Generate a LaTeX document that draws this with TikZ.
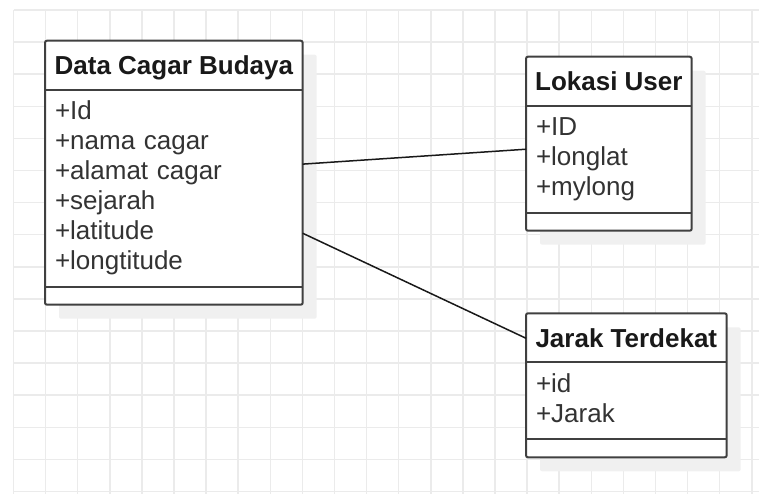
\documentclass[tikz,border=0pt]{standalone}
\usepackage{fontspec}
\setmainfont{Liberation Sans}
\usetikzlibrary{positioning,fit,shadows}
\pgfdeclarelayer{bg}
\pgfsetlayers{bg,main}

\begin{document}
\begin{tikzpicture}[
x = 1pt, y = 1pt,
every node/.style = {
	font = \fontsize{13pt}{15pt}\selectfont,
	text = black!80,
	inner sep = 0pt,
	outer sep = 0pt
},
classhead/.style = {
	minimum width = #1,
	text height = 17pt,
	text depth = 7.5pt,
	text = black!90,
	font = \fontsize{13pt}{15pt}\selectfont\bfseries
},
classattr/.style 2 args = {
	text width = #1,
	inner xsep = 5pt,
	align = left,
	text height = 15pt,
	text depth = #2
},
classops/.style = {
	minimum width = #1,
	minimum height = 9pt
},
classbox/.style = {
	draw = black!75,
	line width = 1pt,
	rounded corners = 1pt,
	fill = white,
	general shadow = {fill = black!6, shadow xshift = 7pt, shadow yshift = -7pt}
},
divider/.style = {
	draw = black!75,
	line width = 1pt
},
assoc/.style = {
	draw = black!90,
	line width = .75pt
},
gridline/.style = {
	draw = black!8,
	line width = .75pt
}
]

\useasboundingbox (0, 0) rectangle (379.5, -246.5);

\node[classhead = 128.85pt, anchor = north west] (dcb) at (22.5, -20.35) {Data Cagar Budaya};
\node[classattr = {118.85pt}{83.5pt}, below = 0pt of dcb] (dcb-attr) {+Id\\+nama cagar\\+alamat cagar\\+sejarah\\+latitude\\+longtitude};
\node[classops = 128.85pt, below = 0pt of dcb-attr] (dcb-ops) {};

\node[classhead = 82.85pt, anchor = north west] (lu) at (263, -28.35) {Lokasi User};
\node[classattr = {72.85pt}{38.5pt}, below = 0pt of lu] (lu-attr) {+ID\\+longlat\\+mylong};
\node[classops = 82.85pt, below = 0pt of lu-attr] (lu-ops) {};

\node[classhead = 100.35pt, anchor = north west] (jt) at (263, -156.65) {Jarak Terdekat};
\node[classattr = {90.35pt}{23.5pt}, below = 0pt of jt] (jt-attr) {+id\\+Jarak};
\node[classops = 100.35pt, below = 0pt of jt-attr] (jt-ops) {};

\begin{pgfonlayer}{bg}
\begin{scope}[shift = {(6.75, -5)}]
\draw[gridline, step = 16.05pt] (0, 0) grid (373, -242);
\end{scope}
\node[classbox, fit = (dcb) (dcb-ops)] (dcb-box) {};
\node[classbox, fit = (lu) (lu-ops)] (lu-box) {};
\node[classbox, fit = (jt) (jt-ops)] (jt-box) {};
\end{pgfonlayer}

\draw[divider] (dcb.south west) -- (dcb.south east);
\draw[divider] (dcb-attr.south west) -- (dcb-attr.south east);
\draw[divider] (lu.south west) -- (lu.south east);
\draw[divider] (lu-attr.south west) -- (lu-attr.south east);
\draw[divider] (jt.south west) -- (jt.south east);
\draw[divider] (jt-attr.south west) -- (jt-attr.south east);

\draw[assoc] (dcb-box) -- (lu-box);
\draw[assoc] (dcb-box) -- (jt-box);
\end{tikzpicture}
\end{document}
